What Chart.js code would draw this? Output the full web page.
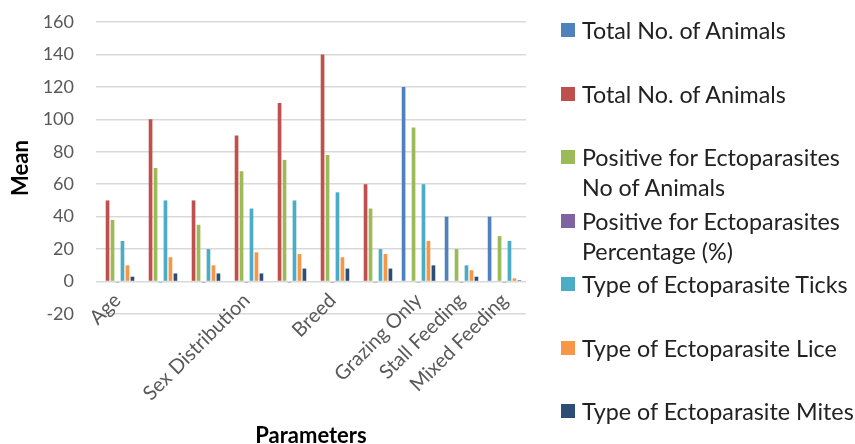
<!DOCTYPE html>
<html>
<head>
<meta charset="utf-8">
<script src="https://cdn.jsdelivr.net/npm/chart.js@4/dist/chart.umd.min.js"></script>
<style>
  html, body { margin: 0; padding: 0; background: #fff; }
  #wrap { position: relative; width: 855px; height: 444px; }
  #c { position: absolute; left: 0; top: 0; }
  #legend { position: absolute; left: 561px; top: 0; font-family: Lato, "Open Sans", sans-serif; font-size: 23.3px; color: #222; }
  .item { position: absolute; left: 0; white-space: pre-line; line-height: 30px; padding-left: 21px; width: 300px; }
  .sw { position: absolute; left: 0; top: 8px; width: 14px; height: 14px; }
</style>
</head>
<body>
<div id="wrap">
  <canvas id="c" width="855" height="444"></canvas>
  <div id="legend"></div>
</div>
<script>
const categories = ['Age', '', '', 'Sex Distribution', '', 'Breed', '', 'Grazing Only', 'Stall Feeding', 'Mixed Feeding'];
const seriesNames = [
  'Total No. of Animals',
  'Total No. of Animals',
  'Positive for Ectoparasites\nNo of Animals',
  'Positive for Ectoparasites\nPercentage (%)',
  'Type of Ectoparasite Ticks',
  'Type of Ectoparasite Lice',
  'Type of Ectoparasite Mites'
];
const totalAnimalsA = [0, 0, 0, 0, 0, 0, 0, 120, 40, 40];
const totalAnimalsB = [50, 100, 50, 90, 110, 140, 60, 0, 0, 0];
const positiveNo    = [38, 70, 35, 68, 75, 78, 45, 95, 20, 28];
const positivePct   = [-0.7, -0.7, -0.7, -0.7, -0.7, -0.7, -0.7, -0.7, -0.7, -0.7];
const ticksType     = [25, 50, 20, 45, 50, 55, 20, 60, 10, 25];
const liceType      = [10, 15, 10, 18, 17, 15, 17, 25, 7, 2];
const mitesType     = [3, 5, 5, 5, 8, 8, 8, 10, 3, 0.8];
const yTicks = [-20, 0, 20, 40, 60, 80, 100, 120, 140, 160];

const colors = ['#4F81BD', '#C0504D', '#9BBB59', '#8064A2', '#4BACC6', '#F79646', '#2C4D75'];
const seriesData = [totalAnimalsA, totalAnimalsB, positiveNo, positivePct, ticksType, liceType, mitesType];

const datasets = seriesData.map((d, i) => ({
  label: seriesNames[i],
  data: d,
  backgroundColor: colors[i],
  borderWidth: 0,
  categoryPercentage: 0.81,
  barPercentage: 0.74
}));

// Rotated category labels drawn from the x scale's tick positions (not clipped to the axis box)
const xLabelPlugin = {
  id: 'xLabels',
  afterDraw(chart) {
    const xs = chart.scales.x;
    const ctx = chart.ctx;
    ctx.save();
    ctx.font = '20px Lato';
    ctx.fillStyle = '#595959';
    ctx.textAlign = 'right';
    ctx.textBaseline = 'middle';
    xs.ticks.forEach((t, i) => {
      const lab = categories[i];
      if (!lab) return;
      const x = xs.getPixelForTick(i);
      ctx.save();
      ctx.translate(x, xs.top - 17);
      ctx.rotate(-Math.PI / 4);
      ctx.fillText(lab, 0, 0);
      ctx.restore();
    });
    ctx.restore();
  }
};

new Chart(document.getElementById('c'), {
  type: 'bar',
  data: { labels: categories, datasets },
  plugins: [xLabelPlugin],
  options: {
    responsive: false,
    animation: false,
    layout: { padding: { left: 8, right: 329, top: 0, bottom: 0 } },
    plugins: { legend: { display: false }, tooltip: { enabled: false } },
    scales: {
      x: {
        grid: { display: false, drawTicks: false },
        border: { display: false },
        afterFit: (s) => { s.paddingLeft = 0; s.paddingRight = 0; s.height = 130; },
        ticks: { display: false, autoSkip: false },
        title: { display: true, text: 'Parameters', color: '#000', font: { family: 'Lato', size: 22, weight: 'bold' }, padding: { top: 0, bottom: -5 } }
      },
      y: {
        min: -20, max: 160,
        afterBuildTicks: (s) => { s.ticks = yTicks.map(v => ({ value: v })); },
        afterFit: (s) => { s.width = 88; s.paddingTop = 22; s.paddingBottom = 0; },
        grid: { color: '#d9d9d9', lineWidth: 1.5, drawTicks: false },
        border: { display: false },
        ticks: { color: '#595959', padding: 22, font: { family: 'Lato', size: 18 } },
        title: { display: true, text: 'Mean', color: '#000', font: { family: 'Lato', size: 22, weight: 'bold' }, padding: { top: 0, bottom: 6 } }
      }
    }
  }
});

const legend = document.getElementById('legend');
seriesNames.forEach((name, i) => {
  const it = document.createElement('div');
  it.className = 'item';
  it.style.top = (15 + i * 63.5) + 'px';
  const sw = document.createElement('span');
  sw.className = 'sw';
  sw.style.background = colors[i];
  it.appendChild(sw);
  it.appendChild(document.createTextNode(name));
  legend.appendChild(it);
});
</script>
</body>
</html>
